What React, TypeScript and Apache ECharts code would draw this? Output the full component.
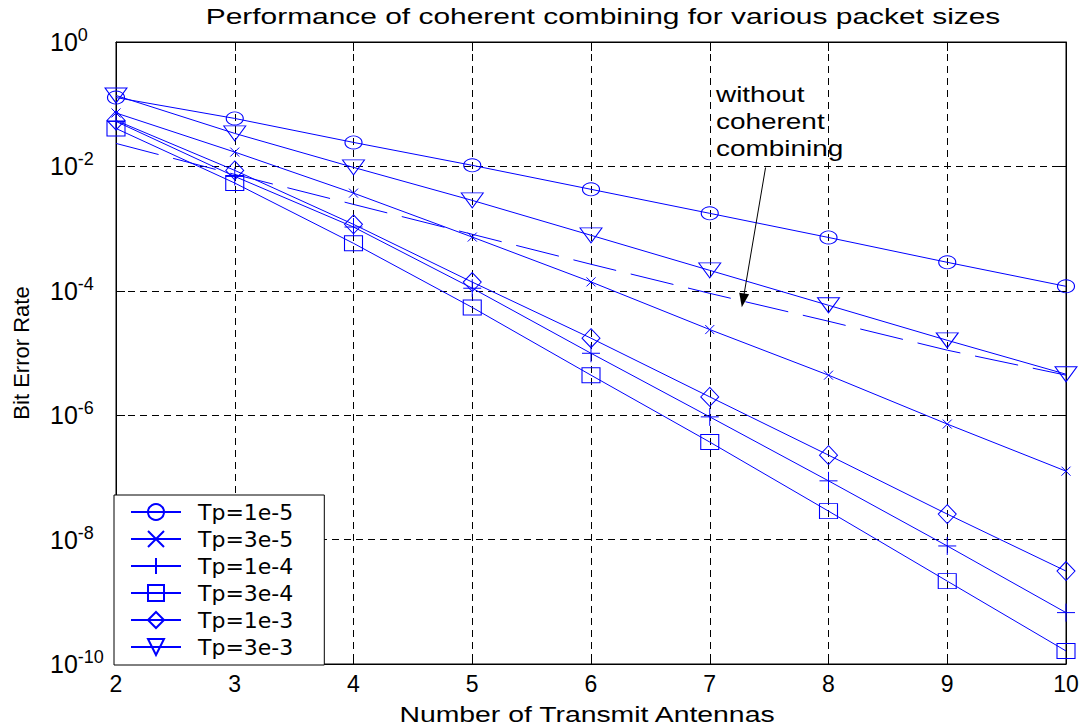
import React, { useEffect, useRef } from "react";
import * as echarts from "echarts";

const X = [2, 3, 4, 5, 6, 7, 8, 9, 10];
const TP_1E5 = [0.128, 0.059, 0.0243, 0.0104, 0.00428, 0.00176, 7.2e-4, 2.87e-4, 1.18e-4];
const TP_3E5 = [0.0723, 0.017, 3.72e-3, 7.31e-4, 1.39e-4, 2.38e-5, 4.4e-6, 7.2e-7, 1.26e-7];
const TP_1E4 = [0.0528, 6.9e-3, 1.06e-3, 1.1e-4, 9.9e-6, 9.4e-7, 8.8e-8, 7.9e-9, 6.7e-10];
const TP_3E4 = [0.0407, 5.4e-3, 5.8e-4, 5.4e-5, 4.4e-6, 3.7e-7, 2.87e-8, 2.15e-9, 1.62e-10];
const TP_1E3 = [0.0548, 8.63e-3, 1.17e-3, 1.38e-4, 1.73e-5, 1.97e-6, 2.28e-7, 2.57e-8, 3.12e-9];
const TP_3E3 = [0.138, 0.0339, 0.00964, 0.00284, 7.8e-4, 2.13e-4, 5.85e-5, 1.6e-5, 4.56e-6];
const NO_COMBINING = [0.0234, 7.43e-3, 2.45e-3, 8.1e-4, 2.67e-4, 9.1e-5, 3.24e-5, 1.11e-5, 4.4e-6];

const SERIES_NAMES = ["Tp=1e-5", "Tp=3e-5", "Tp=1e-4", "Tp=3e-4", "Tp=1e-3", "Tp=3e-3"];
const TITLE = "Performance of coherent combining for various packet sizes";
const X_NAME = "Number of Transmit Antennas";
const Y_NAME = "Bit Error Rate";
const NOTE = "without\ncoherent\ncombining";
const ARROW_FROM = [7.47, 0.0096];
const ARROW_TO = [7.28, 7.0e-5];

const BLUE = "#0000ff";
const FONT = "'Liberation Sans', Arial, Helvetica, sans-serif";
const LEG_FONT = "'DejaVu Sans', 'Liberation Sans', sans-serif";

const SYM_PLUS = "path://M10,0L10,20M0,10L20,10";
const SYM_X = "path://M0,0L20,20M0,20L20,0";
const SYM_TRI_DOWN = "path://M0,0L20,0L10,20Z";

const pairs = (ys: number[]) => X.map((x, i) => [x, ys[i]]);

export default function App() {
  const ref = useRef<HTMLDivElement>(null);
  useEffect(() => {
    if (!ref.current) return;
    const chart = echarts.init(ref.current, undefined, { renderer: "svg" });

    const mk = (name: string, ys: number[], symbol: string, size: number[]) => ({
      name,
      type: "line",
      data: pairs(ys),
      symbol,
      symbolSize: size,
      showAllSymbol: true,
      lineStyle: { color: BLUE, width: 1 },
      itemStyle: { color: "transparent", borderColor: BLUE, borderWidth: 1 },
      emphasis: { disabled: true },
      z: 3,
    });

    const axisLineStyle = { show: true, lineStyle: { color: "#000", width: 1 } };
    const tick = { show: true, inside: true, length: 9, lineStyle: { color: "#000" } };
    const grid = { show: true, lineStyle: { color: "#000", width: 1, type: [7, 5] } };

    const option: any = {
      animation: false,
      backgroundColor: "#fff",
      grid: { left: 116, right: 20, top: 42, bottom: 64, show: true, borderColor: "#000", borderWidth: 1, backgroundColor: "transparent", containLabel: false, outerBoundsMode: "none" },
      xAxis: [
        {
          type: "value",
          min: 2,
          max: 10,
          interval: 1,
          position: "bottom",
          axisLine: axisLineStyle,
          axisTick: tick,
          splitLine: grid,
          axisLabel: { fontSize: 23, color: "#000", margin: 8, fontFamily: FONT },
        },
        {
          type: "value",
          min: 2,
          max: 10,
          interval: 1,
          position: "top",
          axisLine: axisLineStyle,
          axisTick: tick,
          splitLine: { show: false },
          axisLabel: { show: false },
        },
      ],
      yAxis: [
        {
          type: "log",
          logBase: 10,
          min: 1e-10,
          max: 1,
          interval: 2,
          position: "left",
          name: Y_NAME,
          nameLocation: "middle",
          nameGap: 84,
          nameRotate: 90,
          nameTextStyle: { fontSize: 22, color: "#000", fontFamily: FONT },
          axisLine: axisLineStyle,
          axisTick: tick,
          minorTick: { show: false },
          splitLine: grid,
          axisLabel: {
            align: "left",
            margin: 66,
            color: "#000",
            fontSize: 25,
            fontFamily: FONT,
            overflow: "none",
            formatter: (v: number) => `{b|10}{s|${Math.round(Math.log10(v))}}`,
            rich: {
              b: { fontSize: 25, lineHeight: 25, fontFamily: FONT, color: "#000" },
              s: { fontSize: 18, lineHeight: 18, padding: [0, 0, 14, 0], fontFamily: FONT, color: "#000" },
            },
          },
        },
        {
          type: "log",
          logBase: 10,
          min: 1e-10,
          max: 1,
          interval: 2,
          position: "right",
          axisLine: axisLineStyle,
          axisTick: tick,
          splitLine: { show: false },
          axisLabel: { show: false },
        },
      ],
      legend: {
        data: SERIES_NAMES,
        orient: "vertical",
        left: 114,
        top: 495,
        backgroundColor: "#fff",
        borderColor: "#000",
        borderWidth: 1,
        borderRadius: 0,
        padding: [6, 31, 7, 16],
        itemWidth: 50,
        itemHeight: 20,
        itemGap: 5,
        selectedMode: false,
        textStyle: { fontSize: 22, lineHeight: 22, color: "#000", fontFamily: LEG_FONT, padding: [0, 0, 0, 12] },
        z: 10,
      },
      series: [
        mk(SERIES_NAMES[0], TP_1E5, "circle", [17, 13]),
        mk(SERIES_NAMES[1], TP_3E5, SYM_X, [9, 9]),
        mk(SERIES_NAMES[2], TP_1E4, SYM_PLUS, [18, 18]),
        mk(SERIES_NAMES[3], TP_3E4, "rect", [18, 15]),
        mk(SERIES_NAMES[4], TP_1E3, "diamond", [18, 19]),
        mk(SERIES_NAMES[5], TP_3E3, SYM_TRI_DOWN, [22, 15]),
        {
          name: "without coherent combining",
          type: "line",
          data: pairs(NO_COMBINING),
          symbol: "none",
          lineStyle: { color: BLUE, width: 1, type: [44, 15] },
          emphasis: { disabled: true },
          z: 2,
          markLine: {
            silent: true,
            animation: false,
            symbol: ["none", "triangle"],
            symbolSize: [10, 14],
            label: { show: false },
            lineStyle: { color: "#000", width: 1, type: "solid" },
            data: [[{ coord: ARROW_FROM }, { coord: ARROW_TO }]],
          },
        },
      ],
      graphic: [
        {
          type: "text",
          x: 603,
          y: 16,
          scaleX: 1.36,
          style: { text: TITLE, fontSize: 22, fontFamily: FONT, fill: "#000", align: "center", verticalAlign: "middle" },
        },
        {
          type: "text",
          x: 587,
          y: 714,
          scaleX: 1.29,
          style: { text: X_NAME, fontSize: 22, fontFamily: FONT, fill: "#000", align: "center", verticalAlign: "middle" },
        },
        {
          type: "text",
          x: 716,
          y: 81,
          scaleX: 1.27,
          style: { text: NOTE, fontSize: 22, lineHeight: 27, fontFamily: FONT, fill: "#000", align: "left", verticalAlign: "top" },
        },
      ],
    };
    chart.setOption(option);
    return () => chart.dispose();
  }, []);
  return <div ref={ref} style={{ position: "absolute", left: 0, top: 0, width: 1086, height: 728, background: "#fff" }} />;
}
